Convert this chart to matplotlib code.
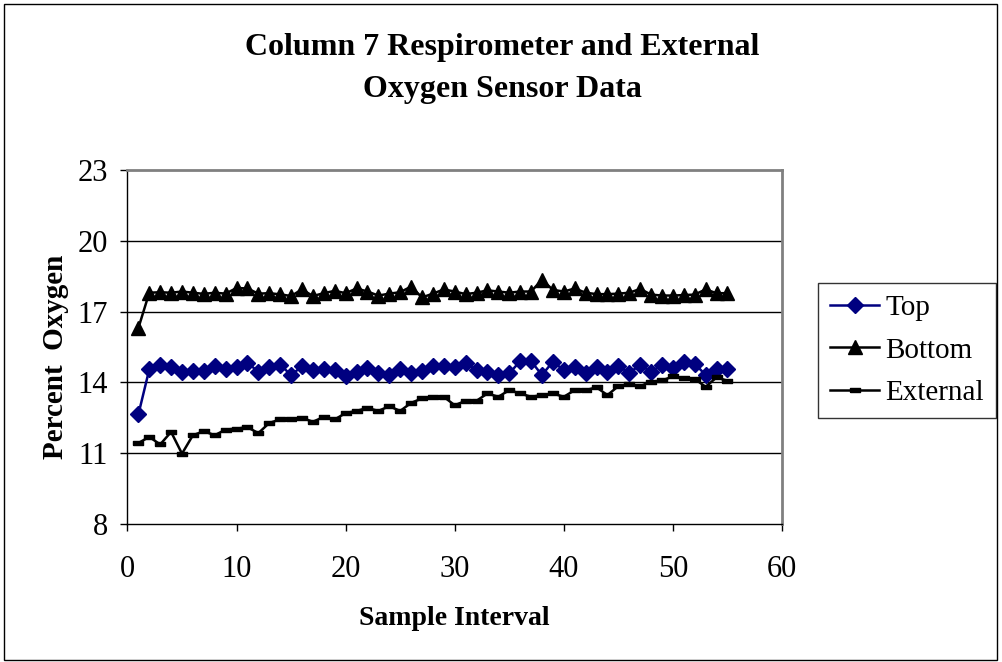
import numpy as np
import matplotlib.pyplot as plt
from matplotlib.patches import Rectangle

# sample readings, one per interval
sample = np.arange(1, 56)
top = [12.64, 14.55, 14.72, 14.65, 14.45, 14.5, 14.5, 14.7, 14.55, 14.64,
       14.83, 14.45, 14.64, 14.75, 14.31, 14.68, 14.52, 14.55, 14.52, 14.26,
       14.45, 14.6, 14.4, 14.3, 14.55, 14.4, 14.5, 14.7, 14.7, 14.64,
       14.82, 14.52, 14.45, 14.31, 14.38, 14.9, 14.9, 14.31, 14.88, 14.52,
       14.64, 14.4, 14.66, 14.45, 14.69, 14.4, 14.74, 14.45, 14.74, 14.6,
       14.88, 14.8, 14.31, 14.55, 14.57]
bottom = [16.3, 17.8, 17.82, 17.8, 17.85, 17.8, 17.75, 17.8, 17.76, 18.0,
          17.98, 17.76, 17.78, 17.73, 17.66, 17.94, 17.66, 17.78, 17.88, 17.78,
          17.98, 17.85, 17.68, 17.76, 17.82, 18.06, 17.6, 17.76, 17.94, 17.85,
          17.74, 17.8, 17.9, 17.85, 17.8, 17.85, 17.85, 18.35, 17.92, 17.85,
          17.98, 17.8, 17.74, 17.74, 17.76, 17.8, 17.96, 17.72, 17.68, 17.68,
          17.7, 17.72, 17.94, 17.78, 17.78]
external = [11.43, 11.69, 11.37, 11.9, 10.98, 11.76, 11.93, 11.76, 12.0, 12.04,
            12.1, 11.85, 12.28, 12.43, 12.43, 12.5, 12.33, 12.54, 12.43, 12.7,
            12.79, 12.92, 12.79, 12.99, 12.79, 13.13, 13.32, 13.39, 13.39, 13.03,
            13.22, 13.22, 13.53, 13.39, 13.67, 13.53, 13.39, 13.46, 13.53, 13.39,
            13.67, 13.67, 13.79, 13.46, 13.84, 13.93, 13.84, 14.03, 14.08, 14.25,
            14.17, 14.15, 13.81, 14.21, 14.07]

x_ticks = [0, 10, 20, 30, 40, 50, 60]
y_ticks = [8, 11, 14, 17, 20, 23]

plt.rcParams['font.family'] = ['Liberation Serif', 'DejaVu Serif']

fig = plt.figure(figsize=(10.02, 6.62), dpi=100)
ax = fig.add_axes([0.1272, 0.2085, 0.6532, 0.5347])

# flat bar marker for the external sensor
bar_marker = [(-1, -0.45), (1, -0.45), (1, 0.45), (-1, 0.45), (-1, -0.45)]

ax.plot(sample, top, color='#000080', lw=1.8, marker='D', ms=7.8,
        mfc='#000080', mec='#000080', label='Top', zorder=4)
ax.plot(sample, bottom, color='black', lw=1.8, marker='^', ms=9.5,
        mfc='black', mec='black', label='Bottom', zorder=4)
ax.plot(sample, external, color='black', lw=1.8, marker=bar_marker, ms=7.5,
        mfc='black', mec='black', label='External', zorder=4)

ax.set_xlim(0, 60)
ax.set_ylim(8, 23)
ax.set_xticks(x_ticks)
ax.set_yticks(y_ticks)
ax.tick_params(axis='both', direction='out', length=5, width=1,
               labelsize=22, color='black')
ax.tick_params(axis='x', pad=17)
ax.tick_params(axis='y', pad=9)

for val in y_ticks[1:-1]:
    ax.axhline(val, color='black', lw=1, zorder=1)

for side in ('top', 'right'):
    ax.spines[side].set_color('#808080')
    ax.spines[side].set_linewidth(2)
for side in ('left', 'bottom'):
    ax.spines[side].set_color('black')
    ax.spines[side].set_linewidth(1)

fig.text(0.501, 0.897, 'Column 7 Respirometer and External\nOxygen Sensor Data',
         ha='center', va='center', fontsize=23, fontweight='bold',
         linespacing=1.6)
fig.text(0.4538, 0.066, 'Sample Interval', ha='center', va='center',
         fontsize=20, fontweight='bold')
fig.text(0.055, 0.461, 'Percent  Oxygen', ha='center', va='center',
         rotation=90, fontsize=21, fontweight='bold')

leg = ax.legend(loc='upper left', bbox_to_anchor=(0.8165, 0.5725),
                bbox_transform=fig.transFigure, fontsize=21, frameon=True,
                fancybox=False, edgecolor='black', handlelength=1.7,
                handletextpad=0.2, borderpad=0.4, labelspacing=0.55,
                borderaxespad=0)
leg.get_frame().set_linewidth(1)

# outer border round the whole chart
fig.patches.append(Rectangle((0.004, 0.003), 0.991, 0.991, transform=fig.transFigure,
                             fill=False, edgecolor='black', lw=1))

fig.savefig('out.png', dpi=100)
